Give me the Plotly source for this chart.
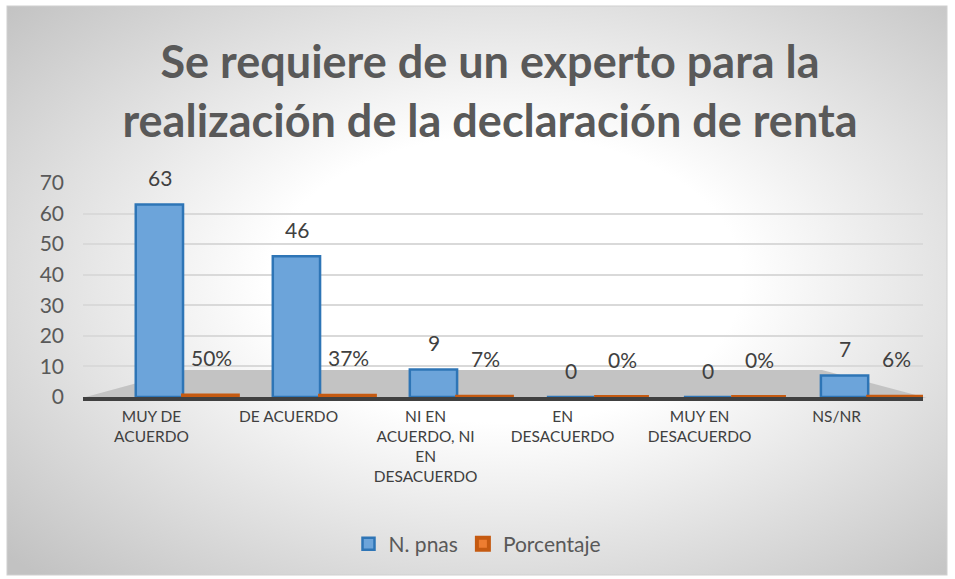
import base64
import plotly.graph_objects as go

categories = ["MUY DE<br>ACUERDO", "DE ACUERDO", "NI EN<br>ACUERDO, NI<br>EN<br>DESACUERDO",
              "EN<br>DESACUERDO", "MUY EN<br>DESACUERDO", "NS/NR"]
n_pnas = [63, 46, 9, 0, 0, 7]
porcentaje = [0.50, 0.37, 0.07, 0.00, 0.00, 0.06]
y_ticks = [0, 10, 20, 30, 40, 50, 60, 70]

W, H = 955, 579
TXT = "#595959"
FONT = "Lato"

# background (radial gradient chart area)
svg = f'''<svg xmlns="http://www.w3.org/2000/svg" width="{W}" height="{H}" viewBox="0 0 {W} {H}" preserveAspectRatio="none">
<defs><radialGradient id="g" cx="0.53" cy="0.48" r="0.72">
<stop offset="0" stop-color="#FFFFFF"/><stop offset="0.35" stop-color="#FFFFFF"/>
<stop offset="1" stop-color="#C2C2C2"/></radialGradient></defs>
<rect width="{W}" height="{H}" fill="#FFFFFF"/>
<rect x="7" y="6" width="940" height="569" fill="url(#g)" stroke="#D0D0D0" stroke-width="1"/>
</svg>'''
bg = "data:image/svg+xml;base64," + base64.b64encode(svg.encode()).decode()

x_left, x_right = 83, 923
y0_px, y70_px = 397, 183
cat_px = (x_right - x_left) / len(categories)

blue_off, blue_w = -0.115, 0.345
or_off, or_w = 0.23, 0.40

fig = go.Figure()
fig.add_trace(go.Bar(
    x=categories, y=n_pnas, name="N. pnas",
    offset=blue_off, width=blue_w,
    marker=dict(color="#6CA4DA", line=dict(color="#2E75B6", width=2.5)),
    hoverinfo="skip",
))
fig.add_trace(go.Bar(
    x=categories, y=porcentaje, name="Porcentaje",
    offset=or_off, width=or_w,
    marker=dict(color="#ED7D31", line=dict(color="#C55A11", width=4)),
    hoverinfo="skip",
))

annotations = []
for c, v in zip(categories, n_pnas):
    annotations.append(dict(x=c, y=v, text=str(v), showarrow=False,
                            xshift=(blue_off + blue_w / 2) * cat_px, yshift=27,
                            font=dict(family=FONT, size=21, color="#404040")))
for c, p in zip(categories, porcentaje):
    annotations.append(dict(x=c, y=p, text=f"{p:.0%}", showarrow=False,
                            xshift=(or_off + or_w / 2) * cat_px, yshift=38,
                            font=dict(family=FONT, size=21, color="#404040")))

fig.update_layout(
    width=W, height=H,
    margin=dict(l=0, r=0, t=0, b=0),
    paper_bgcolor="rgba(0,0,0,0)",
    plot_bgcolor="rgba(0,0,0,0)",
    images=[dict(source=bg, xref="paper", yref="paper", x=0, y=1, sizex=1, sizey=1,
                 xanchor="left", yanchor="top", sizing="stretch", layer="below")],
    shapes=[dict(type="path", xref="paper", yref="paper", layer="below",
                 path=f"M {82/W},{1-398/H} L {927/W},{1-398/H} L {822/W},{1-370/H} L {185/W},{1-370/H} Z",
                 fillcolor="#C3C3C3", line=dict(width=0))],
    title=dict(text="Se requiere de un experto para la<br>realización de la declaración de renta",
               x=490 / W, xanchor="center", y=1 - 78 / H, yanchor="middle",
               font=dict(family=FONT, size=45, color=TXT, weight="bold")),
    showlegend=True,
    legend=dict(orientation="h", x=0.5, xanchor="center", y=1 - 544 / H, yanchor="middle",
                font=dict(family=FONT, size=21, color=TXT), bgcolor="rgba(0,0,0,0)",
                itemwidth=30, traceorder="normal"),
    xaxis=dict(domain=[x_left / W, x_right / W], showline=True, linecolor="#404040",
               linewidth=4, ticks="", showgrid=False, automargin=False,
               tickfont=dict(family=FONT, size=15.5, color="#404040"),
               ticklabelstandoff=2),
    yaxis=dict(domain=[1 - y0_px / H, 1 - y70_px / H], range=[0, 70], tickvals=y_ticks,
               showgrid=True, gridcolor="#D9D9D9", gridwidth=2, zeroline=False,
               showline=False, automargin=False, ticks="",
               tickfont=dict(family=FONT, size=21, color=TXT), ticklabelstandoff=18),
    annotations=annotations,
)

fig.write_html("out.html", config={"displayModeBar": False},
               post_script="document.body.style.margin='0';document.body.style.padding='0';")
